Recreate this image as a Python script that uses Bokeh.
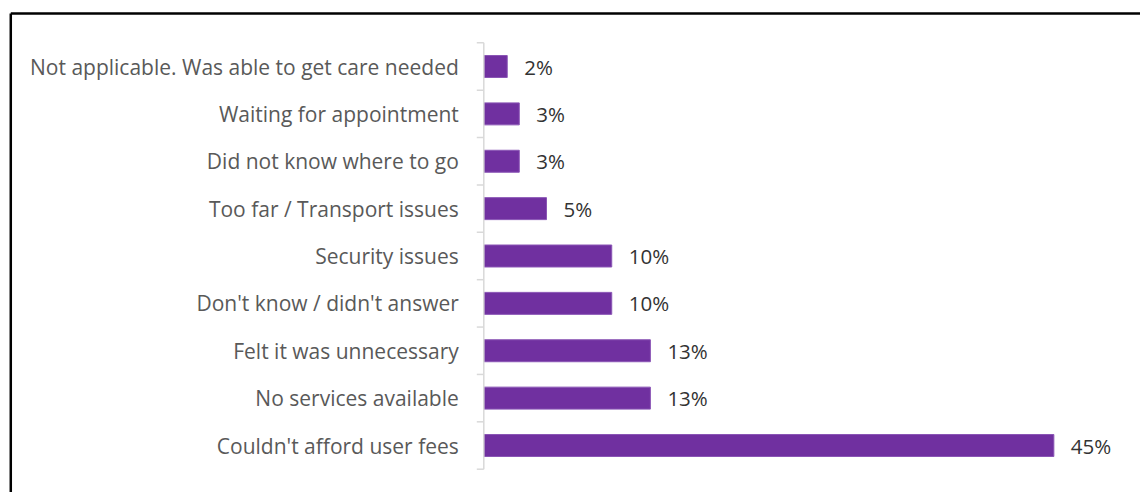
from bokeh.plotting import figure
from bokeh.models import Range1d, ColumnDataSource
from bokeh.core.properties import value
from bokeh.embed import file_html
from bokeh.resources import INLINE
import math

categories = [
    "Not applicable. Was able to get care needed",
    "Waiting for appointment",
    "Did not know where to go",
    "Too far / Transport issues",
    "Security issues",
    "Don't know / didn't answer",
    "Felt it was unnecessary",
    "No services available",
    "Couldn't afford user fees",
]
values = [1.85, 2.8, 2.8, 4.95, 10.1, 10.1, 13.15, 13.15, 45.0]
labels = [f"{round(v)}%" for v in values]

n = len(categories)
ys = list(range(n))

src = ColumnDataSource(dict(cat=categories, val=values, lab=labels, y=ys))

FONT = "Open Sans"

X_START, X_END = -37.52, 51.84
Y_BOTTOM, Y_TOP = 8.992, -1.161

p = figure(
    width=1140, height=492,
    x_range=Range1d(X_START, X_END),
    y_range=Range1d(Y_BOTTOM, Y_TOP),
    x_axis_location=None, y_axis_location=None,
    toolbar_location=None, output_backend="svg",
    min_border_left=8, min_border_top=11, min_border_right=0, min_border_bottom=0,
)
p.grid.visible = False
p.outline_line_color = None
p.background_fill_color = "white"
p.border_fill_color = "white"

# chart border (left and top edges; right and bottom run off the page)
BX = -37.34
BY = -1.119
p.segment(x0=[BX, BX], y0=[Y_BOTTOM + 1, BY], x1=[BX, X_END + 1], y1=[BY, BY],
          line_color="black", line_width=2.5)

# bars
p.hbar(y="y", left=0, right="val", height=0.464, source=src,
       fill_color="#7030A0", line_color="#8a55b5", line_width=1)

# category axis line and tick marks
p.segment(x0=[0], x1=[0], y0=[-0.5], y1=[n - 0.5], line_color="#d9d9d9", line_width=1.5)
p.ray(x=[0] * (n + 1), y=[i - 0.5 for i in range(n + 1)], length=7,
      length_units="screen", angle=math.pi, line_color="#d9d9d9", line_width=1.5)

# category labels
p.text(x=0, y="y", text="cat", source=src, x_offset=-25,
       text_align="right", text_baseline="middle",
       text_font=value(FONT), text_font_size="21px", text_color="#595959")

# value labels
p.text(x="val", y="y", text="lab", source=src, x_offset=17,
       text_align="left", text_baseline="middle",
       text_font=value(FONT), text_font_size="20.5px", text_color="#333333")

open("out.html", "w").write(file_html(p, INLINE))
